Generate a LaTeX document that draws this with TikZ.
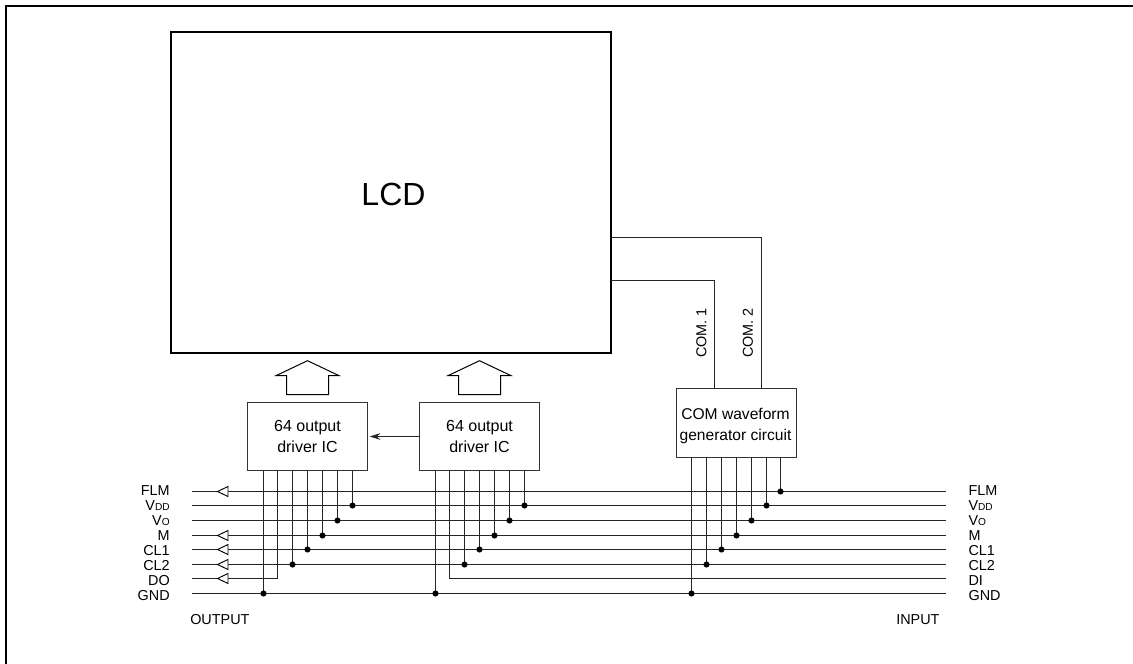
\documentclass[tikz,border=0pt]{standalone}
\usepackage{fontspec}
\setmainfont{Liberation Sans}
\usetikzlibrary{arrows.meta}
\newcommand{\sm}[1]{{\fontsize{7.6}{8}\selectfont #1}}
\tikzset{
  x=0.75pt,y=-0.75pt,
  wire/.style={draw=black!85,line width=0.8pt},
  box/.style={draw=black!80,line width=0.8pt,fill=white,minimum width=90pt,minimum height=51pt,inner sep=0pt,outer sep=0pt,align=center,font=\fontsize{12}{15.5}\selectfont,anchor=north west},
  dot/.style={circle,fill=black,draw=none,minimum size=4.6pt,inner sep=0pt},
  lab/.style={font=\fontsize{10.8}{10.8}\selectfont,inner sep=0pt},
  tri/.style={draw=black,line width=0.7pt,fill=white,line join=miter},
  bigarrow/.style={draw=black,line width=0.75pt,fill=white}
}
\begin{document}
\begin{tikzpicture}
\useasboundingbox (0,0) rectangle (1133,664);
% frame: only the top and left edges
\coordinate (ftr) at (1133,6);
\coordinate (ftl) at (6,6);
\coordinate (fbl) at (6,664);
\draw[line width=1.6pt,line join=miter] (ftr) -- (ftl) -- (fbl);
% LCD
\node[draw,line width=1.6pt,minimum width=330pt,minimum height=240.75pt,inner sep=0pt,outer sep=0pt,anchor=north west] (lcd) at (171,32) {};
\node[font=\fontsize{24}{28}\selectfont,inner sep=0pt] (lcdt) at (393.5,194) {LCD};
% ICs
\node[box] (ic1) at (247.5,402.5) {64 output\\driver IC};
\node[box] (ic2) at (419.5,402.5) {64 output\\driver IC};
\node[box,minimum height=51.75pt] (com) at (676.5,388.5) {};
\node[align=center,inner sep=0pt,font=\fontsize{11.7}{15.7}\selectfont] (comt) at (735.5,426) {COM waveform\\generator circuit};
% bus ends and labels
\foreach \n/\y/\t/\l/\r in {a/491.5/490.7/FLM/FLM,b/505.5/505.6/{V\sm{DD}}/{V\sm{DD}},c/520.5/521/{V\sm{O}}/{V\sm{O}},d/535.5/535.9/M/M,e/549.5/550.7/CL1/CL1,f/564.5/566/CL2/CL2,g/578.5/580.7/DO/DI,h/593.5/596/GND/GND}{
  \coordinate (L\n) at (192,\y);
  \coordinate (R\n) at (946,\y);
  \node[lab,anchor=east] (tl\n) at (170,\t) {\l};
  \node[lab,anchor=west] (tr\n) at (968.3,\t) {\r};
}
\foreach \n in {a,b,c,d,e,f,h}{\draw[wire] (L\n) -- (R\n);}
% DO and DI
\coordinate (p1) at (277.5,470.5);
\coordinate (p2) at (449.5,470.5);
\draw[wire] (p1) -- (277.5,578.5) -- (Lg);
\draw[wire] (p2) -- (449.5,578.5) -- (Rg);
% pins
\foreach \xa/\xb/\xc/\n/\y in {263.5/435.5/691.5/h/593.5,292.5/464.5/706.5/f/564.5,307.5/479.5/721.5/e/549.5,322.5/494.5/736.5/d/535.5,337.5/509.5/751.5/c/520.5,352.5/524.5/766.5/b/505.5}{
  \draw[wire] (\xa,470.5) -- (\xa,\y) node[dot] (da\n) {};
  \draw[wire] (\xb,470.5) -- (\xb,\y) node[dot] (db\n) {};
  \draw[wire] (\xc,457.5) -- (\xc,\y) node[dot] (dc\n) {};
}
\draw[wire] (780.5,457.5) -- (780.5,491.5) node[dot] (dca) {};
% output triangles
\foreach \y in {491.5,535.5,549.5,564.5,578.5}{
  \filldraw[tri] (217.5,\y) -- (228,\y-5) -- (228,\y+5) -- cycle;
}
% big arrows
\foreach \x in {307.5,479.5}{
  \filldraw[bigarrow] (\x,360.7) -- (\x+31.2,375.5) -- (\x+21,375.5) -- (\x+21,394.5) -- (\x-21,394.5) -- (\x-21,375.5) -- (\x-31.2,375.5) -- cycle;
}
% IC2 to IC1
\draw[wire,-{Stealth[length=8pt,width=5pt]}] (ic2.west|-0,436.5) -- (369.7,436.5);
% COM lines
\draw[wire] (lcd.east|-0,237.5) -- (761.5,237.5) -- (761.5,388.5);
\draw[wire] (lcd.east|-0,280.5) -- (714.5,280.5) -- (714.5,388.5);
\node[lab,rotate=90] (c1) at (701.5,333) {COM. 1};
\node[lab,rotate=90] (c2) at (748,333) {COM. 2};
\node[lab,anchor=west] (out) at (190,620) {OUTPUT};
\node[lab,anchor=west] (in) at (896,620) {INPUT};
\end{tikzpicture}
\end{document}
